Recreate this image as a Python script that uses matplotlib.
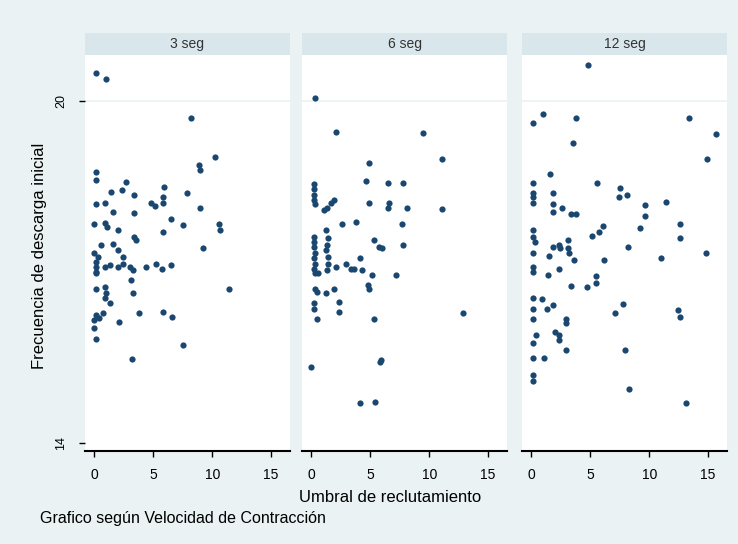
import matplotlib.pyplot as plt
from matplotlib.patches import Rectangle

plt.rcParams['font.family'] = ['Liberation Sans', 'DejaVu Sans']

# Data
panel_titles = ['3 seg', '6 seg', '12 seg']

x3 = [0.1, 1.0, 8.2, 8.9, 9.0, 10.2, 0.1, 0.1, 2.7, 1.4, 2.3, 3.4, 5.9, 5.8, 7.9,
      0.1, 0.9, 1.6, 4.8, 5.1, 5.8, 3.4, 9.0, 0.0, 0.9, 1.1, 6.5, 7.5, 10.6, 10.7,
      2.0, 3.4, 3.5, 5.8, 0.6, 1.6, 2.0, 9.2, 0.0, 0.3, 0.1, 2.4, 0.1, 0.9, 1.3,
      2.0, 2.4, 3.0, 3.3, 4.4, 5.2, 5.7, 6.5, 0.1, 0.1, 3.1, 11.4, 0.1, 0.9, 1.0,
      0.9, 1.3, 3.3, 0.1, 0.0, 0.4, 0.7, 0.0, 2.1, 3.8, 5.8, 6.6, 0.1, 7.5, 3.2]
y3 = [20.49, 20.39, 19.70, 18.88, 18.79, 19.02, 18.76, 18.61, 18.58, 18.41, 18.44,
      18.35, 18.49, 18.32, 18.38, 18.19, 18.22, 18.06, 18.22, 18.16, 18.22, 18.03,
      18.12, 17.84, 17.86, 17.79, 17.94, 17.82, 17.84, 17.74, 17.74, 17.62, 17.56,
      17.71, 17.47, 17.50, 17.39, 17.43, 17.33, 17.27, 17.18, 17.27, 17.09, 17.09,
      17.12, 17.09, 17.15, 17.09, 17.04, 17.09, 17.15, 17.06, 17.12, 17.00, 16.98,
      16.86, 16.70, 16.71, 16.74, 16.63, 16.54, 16.45, 16.63, 16.25, 16.16, 16.19,
      16.28, 16.01, 16.13, 16.28, 16.30, 16.22, 15.82, 15.72, 15.47]

x6 = [0.3, 2.1, 9.5, 11.1, 4.9, 4.6, 6.5, 7.8, 0.2, 0.2, 0.2, 0.2, 0.3, 1.9, 1.7,
      1.3, 1.1, 4.9, 6.5, 6.6, 8.1, 11.1, 2.6, 3.8, 7.7, 1.2, 1.4, 0.2, 0.2, 0.2,
      0.3, 0.2, 0.3, 0.2, 0.3, 1.3, 1.2, 1.4, 5.3, 5.7, 6.0, 7.8, 2.1, 2.9, 3.6,
      4.1, 4.3, 5.1, 7.2, 1.4, 1.3, 0.6, 3.4, 4.8, 4.9, 0.3, 0.5, 1.2, 1.9, 0.2,
      0.2, 2.3, 2.3, 0.5, 5.3, 12.9, 0.0, 5.8, 5.9, 4.1, 5.4]
y6 = [20.05, 19.46, 19.44, 18.99, 18.92, 18.60, 18.57, 18.57, 18.54, 18.45, 18.35,
      18.26, 18.19, 18.26, 18.21, 18.12, 18.09, 18.21, 18.12, 18.22, 18.12, 18.10,
      17.85, 17.88, 17.84, 17.74, 17.59, 17.61, 17.53, 17.44, 17.33, 17.24, 17.15,
      17.06, 16.98, 17.47, 17.39, 17.27, 17.56, 17.44, 17.42, 17.47, 17.09, 17.15,
      17.06, 17.24, 17.04, 16.95, 16.95, 17.15, 17.04, 16.98, 17.06, 16.77, 16.71,
      16.71, 16.65, 16.63, 16.71, 16.45, 16.36, 16.48, 16.30, 16.17, 16.17, 16.29,
      15.34, 15.43, 15.46, 14.70, 14.72]

x12 = [4.8, 0.1, 1.0, 3.8, 13.4, 15.7, 3.5, 14.9, 1.6,
       0.1, 0.1, 0.1, 0.1, 1.8, 5.6, 7.5, 7.4, 8.1,
       1.8, 1.8, 2.6, 3.4, 3.8, 9.6, 9.6, 11.4, 9.2, 12.6, 12.6,
       6.1, 5.7, 5.1, 0.1, 0.1, 0.3, 0.1,
       1.8, 2.3, 2.4, 3.1, 3.1, 3.2, 8.2, 1.5, 3.6, 6.2, 11.0, 14.8,
       0.1, 0.1, 1.4, 2.3, 5.5,
       3.4, 4.7, 5.5,
       0.1, 0.9, 0.1, 1.3, 1.8, 7.8, 7.1, 12.4, 12.6,
       0.1, 2.9, 2.9,
       0.4, 0.1, 2.0, 2.3, 2.3, 2.9, 0.1, 1.1, 7.9,
       0.1, 0.1, 8.3, 13.1]
y12 = [20.63, 19.61, 19.77, 19.70, 19.71, 19.42, 19.26, 18.99, 18.72,
       18.56, 18.39, 18.32, 18.21, 18.39, 18.56, 18.47, 18.31, 18.36,
       18.19, 18.06, 18.12, 18.02, 18.02, 18.17, 17.98, 18.23, 17.77, 17.84, 17.59,
       17.81, 17.71, 17.63, 17.74, 17.62, 17.53, 17.33,
       17.44, 17.47, 17.42, 17.56, 17.42, 17.33, 17.44, 17.28, 17.21, 17.21, 17.24, 17.33,
       17.09, 17.00, 16.95, 17.06, 16.93,
       16.75, 16.74, 16.80,
       16.54, 16.52, 16.36, 16.36, 16.42, 16.44, 16.29, 16.33, 16.22,
       16.17, 16.17, 16.10,
       15.89, 15.76, 15.95, 15.89, 15.81, 15.64, 15.50, 15.49, 15.64,
       15.19, 15.08, 14.94, 14.70]

xs = [x3, x6, x12]
ys = [y3, y6, y12]

W, H = 738, 544
fig = plt.figure(figsize=(W / 100, H / 100), dpi=100)
fig.patch.set_facecolor('#eaf2f3')

lefts = [85, 302, 522]
pw = 205
top, bottom = 55, 451
strip_h = 22 / (bottom - top)

for i, (x, y) in enumerate(zip(xs, ys)):
    ax = fig.add_axes([lefts[i] / W, 1 - bottom / H, pw / W, (bottom - top) / H])
    ax.set_facecolor('white')
    ax.axhline(20, color='#eaf2f3', lw=1.2, zorder=0)
    ax.scatter(x, y, s=20, color='#1a476f', marker='o', linewidths=0, zorder=3)
    ax.set_xlim(-0.8, 16.6)
    ax.set_ylim(13.86, 20.81)
    for s in ['top', 'right', 'left']:
        ax.spines[s].set_visible(False)
    ax.spines['bottom'].set_linewidth(1.5)
    ax.set_xticks([0, 5, 10, 15])
    ax.tick_params(axis='x', length=4, width=1, pad=8, labelsize=10)
    if i == 0:
        ax.set_yticks([14, 20])
        ax.set_yticklabels(['14', '20'], rotation=90, va='center')
        ax.tick_params(axis='y', length=4, width=1, pad=9, labelsize=9)
    else:
        ax.set_yticks([])
    # strip header
    ax.add_patch(Rectangle((0, 1), 1, strip_h, transform=ax.transAxes,
                           facecolor='#d9e6eb', edgecolor='none', clip_on=False))
    ax.text(0.5, 1 + strip_h / 2, panel_titles[i], transform=ax.transAxes,
            ha='center', va='center', fontsize=10, color='#333333')

fig.text(40 / W, 1 - 256 / H, 'Frecuencia de descarga inicial', rotation=90,
         ha='center', va='center', fontsize=12)
fig.text(390 / W, 1 - 497 / H, 'Umbral de reclutamiento', ha='center', va='center',
         fontsize=12)
fig.text(40 / W, 1 - 518 / H, 'Grafico según Velocidad de Contracción', ha='left',
         va='center', fontsize=11.5)

fig.savefig('out.png', dpi=100, facecolor=fig.get_facecolor())
